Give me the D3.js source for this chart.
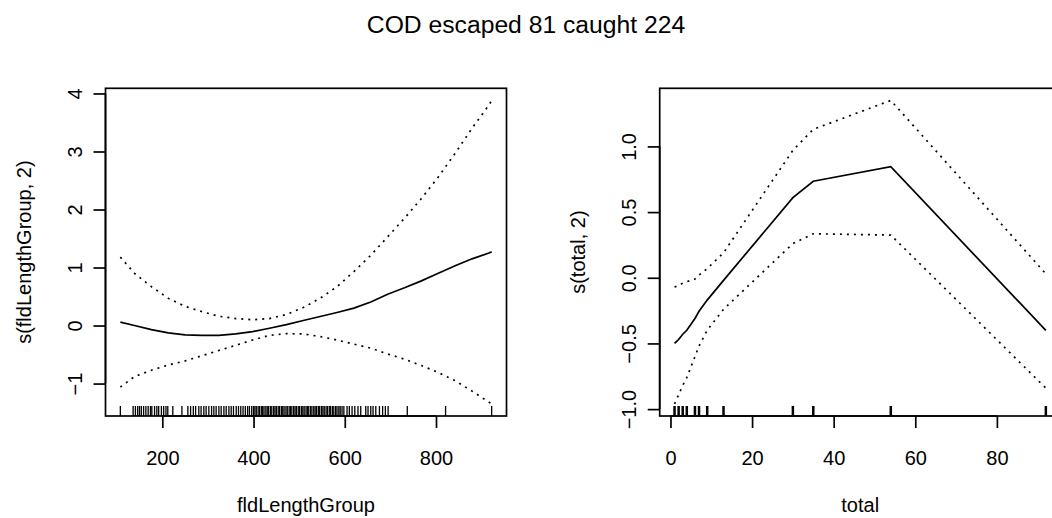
<!DOCTYPE html>
<html>
<head>
<meta charset="utf-8">
<script src="https://cdn.jsdelivr.net/npm/d3@7"></script>
<style>
  body { margin: 0; background: #fff; }
  text { font-family: "Liberation Sans", Arial, sans-serif; fill: #000; }
</style>
</head>
<body>
<script>
// left panel: s(fldLengthGroup, 2)
var lenGrid  = [108, 139, 176, 213, 250, 287, 324, 361, 398, 435, 472, 509, 546, 583, 620, 657, 694, 731, 768, 805, 842, 879, 916, 922];
var lenFit   = [0.06, 0.0, -0.07, -0.127, -0.162, -0.168, -0.168, -0.145, -0.104, -0.046, 0.017, 0.087, 0.156, 0.225, 0.30, 0.405, 0.54, 0.65, 0.77, 0.90, 1.03, 1.15, 1.25, 1.27];
var lenUpper = [1.18, 0.90, 0.67, 0.47, 0.33, 0.24, 0.16, 0.12, 0.10, 0.12, 0.19, 0.31, 0.47, 0.67, 0.93, 1.21, 1.53, 1.85, 2.19, 2.56, 2.97, 3.40, 3.80, 3.88];
var lenLower = [-1.06, -0.88, -0.77, -0.68, -0.61, -0.52, -0.43, -0.34, -0.25, -0.17, -0.14, -0.145, -0.19, -0.25, -0.32, -0.39, -0.49, -0.58, -0.69, -0.81, -0.95, -1.13, -1.32, -1.35];
var lenRug = [108, 136, 141, 146, 150, 154, 159, 164, 169, 174, 177, 183, 188, 192, 198, 203, 208, 212, 223, 243,
  256, 262, 268, 273, 280, 285, 291, 296, 302, 308, 313, 318, 324, 329, 335, 340, 346, 351, 356, 362, 367, 372, 377, 382, 387, 391, 396,
  400, 403, 406, 410, 413, 417, 420, 423, 427, 430, 433, 437, 440, 444, 447, 450, 454, 457, 461, 464, 467, 471, 474, 478, 481, 484, 488,
  491, 494, 498, 501, 505, 508, 511, 515, 518, 521, 525, 528, 532, 535, 538, 542, 545, 549, 552, 555, 559, 562, 566, 569, 573, 576, 580,
  583, 587, 590, 594, 598, 605, 610, 616, 622, 629, 635, 646, 651, 657, 662, 668, 676, 683, 689, 695, 737, 821, 922];
var lenXTicks = [200, 400, 600, 800];
var lenYTicks = [-1, 0, 1, 2, 3, 4];

// right panel: s(total, 2)
var totGrid  = [1, 2, 3, 4, 6, 7, 9, 13, 30, 35, 54, 92];
var totFit   = [-0.50, -0.47, -0.43, -0.40, -0.31, -0.255, -0.17, -0.02, 0.61, 0.735, 0.845, -0.40];
var totUpper = [-0.07, -0.06, -0.04, -0.03, -0.01, 0.02, 0.07, 0.19, 0.97, 1.13, 1.35, 0.03];
var totLower = [-0.96, -0.89, -0.82, -0.76, -0.60, -0.52, -0.40, -0.24, 0.26, 0.335, 0.325, -0.84];
var totRug = [1, 2, 3, 4, 6, 7, 9, 13, 30, 35, 54, 92];
var totXTicks = [0, 20, 40, 60, 80];
var totYTicks = [-1.0, -0.5, 0.0, 0.5, 1.0];

var width = 1052, height = 518;
var plotTop = 88.3, plotBottom = 416;
var fs = 20;

var svg = d3.select("body").append("svg")
    .attr("width", width)
    .attr("height", height);

svg.append("text")
    .attr("x", 526)
    .attr("y", 33)
    .attr("text-anchor", "middle")
    .style("font-size", "24.7px")
    .text("COD escaped 81 caught 224");

// R style range: data extent padded 4% each side
function padded(arrs){
  var all = d3.merge(arrs);
  var ext = d3.extent(all), r = ext[1] - ext[0];
  return [ext[0] - 0.04 * r, ext[1] + 0.04 * r];
}

function panel(opt){
  var x = d3.scaleLinear().domain(padded([opt.grid])).range([opt.left, opt.right]);
  var y = d3.scaleLinear().domain(padded([opt.upper, opt.lower])).range([plotBottom, plotTop]);
  var g = svg.append("g");

  var line = function(vals){
    return d3.line()
      .x(function(d, i){ return x(opt.grid[i]); })
      .y(function(d){ return y(d); })(vals);
  };

  g.append("path").attr("d", line(opt.fit))
    .attr("fill", "none").attr("stroke", "#000").attr("stroke-width", 1.7);
  [opt.upper, opt.lower].forEach(function(v){
    g.append("path").attr("d", line(v))
      .attr("fill", "none").attr("stroke", "#000").attr("stroke-width", 1.7)
      .attr("stroke-dasharray", "2,5");
  });

  // rug
  g.selectAll("line.rug")
    .data(opt.rug).enter()
    .append("line")
    .attr("x1", function(d){ return x(d); })
    .attr("x2", function(d){ return x(d); })
    .attr("y1", plotBottom)
    .attr("y2", plotBottom - 10)
    .attr("stroke", "#000")
    .attr("stroke-width", opt.rugW);

  g.append("rect")
    .attr("x", opt.left).attr("y", plotTop)
    .attr("width", opt.right - opt.left).attr("height", plotBottom - plotTop)
    .attr("fill", "none").attr("stroke", "#000").attr("stroke-width", 1.7);

  // x axis
  var xa = g.append("g").attr("transform", "translate(0," + plotBottom + ")")
    .call(d3.axisBottom(x).tickValues(opt.xTicks).tickSize(12).tickFormat(d3.format("d")));
  xa.select(".domain").attr("d", "M" + x(opt.xTicks[0]) + ",0H" + x(opt.xTicks[opt.xTicks.length - 1]))
    .attr("stroke-width", 1.7);
  xa.selectAll(".tick line").attr("stroke-width", 1.7);
  xa.selectAll("text").style("font-size", fs + "px").attr("dy", null).attr("y", 49);

  // y axis, labels parallel to axis
  var ya = g.append("g").attr("transform", "translate(" + opt.left + ",0)")
    .call(d3.axisLeft(y).tickValues(opt.yTicks).tickSize(12).tickFormat(opt.yFormat));
  ya.select(".domain").attr("d", "M0," + y(opt.yTicks[0]) + "V" + y(opt.yTicks[opt.yTicks.length - 1]))
    .attr("stroke-width", 1.7);
  ya.selectAll(".tick line").attr("stroke-width", 1.7);
  ya.selectAll("text")
    .style("font-size", fs + "px")
    .attr("x", null).attr("dy", null)
    .attr("text-anchor", "middle")
    .attr("transform", "translate(-24,0) rotate(-90)");

  g.append("text")
    .attr("x", (opt.left + opt.right) / 2)
    .attr("y", 512)
    .attr("text-anchor", "middle")
    .style("font-size", fs + "px")
    .text(opt.xLab);

  g.append("text")
    .attr("transform", "translate(" + (opt.left - 75) + "," + ((plotTop + plotBottom) / 2) + ") rotate(-90)")
    .attr("text-anchor", "middle")
    .style("font-size", fs + "px")
    .text(opt.yLab);
}

panel({
  grid: lenGrid, fit: lenFit, upper: lenUpper, lower: lenLower, rug: lenRug, rugW: 1.3,
  left: 105.5, right: 506.5, xTicks: lenXTicks, yTicks: lenYTicks,
  yFormat: d3.format("d"), xLab: "fldLengthGroup", yLab: "s(fldLengthGroup, 2)"
});

panel({
  grid: totGrid, fit: totFit, upper: totUpper, lower: totLower, rug: totRug, rugW: 2.5,
  left: 659.7, right: 1060.7, xTicks: totXTicks, yTicks: totYTicks,
  yFormat: d3.format(".1f"), xLab: "total", yLab: "s(total, 2)"
});
</script>
</body>
</html>
